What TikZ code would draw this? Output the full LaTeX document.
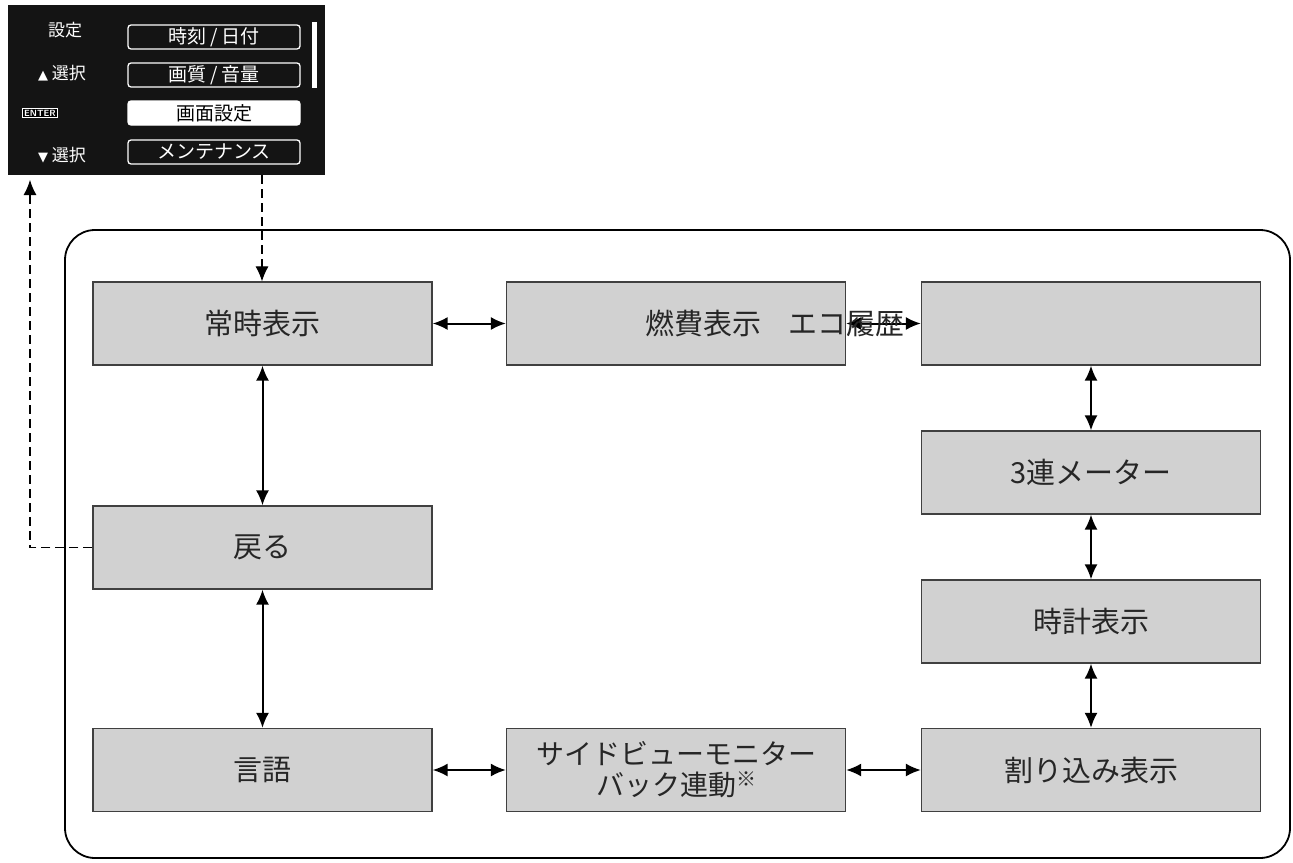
\documentclass[tikz,border=0pt]{standalone}
\usepackage{fontspec}
\setmainfont{Noto Sans CJK JP}
\newfontfamily\sym{DejaVu Sans}
\usetikzlibrary{arrows.meta}
\begin{document}
\begin{tikzpicture}[x=1pt,y=-1pt,
 box/.style={draw=black!75,line width=1.2pt,fill=black!18,minimum width=339pt,minimum height=83pt,inner sep=0pt,font=\fontsize{29}{34}\selectfont,text=black!85},
 dbl/.style={{Latex[length=15pt,width=13pt]}-{Latex[length=15pt,width=13pt]},line width=2pt},
 dsh/.style={dashed,dash pattern=on 9pt off 5pt,line width=1.1pt,-{Latex[length=15pt,width=13pt]}},
 mi/.style={draw=white,line width=1.3pt,rounded corners=3pt,minimum width=172pt,minimum height=24pt,inner sep=0pt,text=white,font=\fontsize{19}{21}\selectfont},
 lab/.style={text=white,font=\fontsize{17}{19}\selectfont}]
\useasboundingbox (0,0) rectangle (1293,862);
\draw[line width=1.8pt,rounded corners=30pt] (65,230) rectangle (1290,858);
\node[box] (a) at (262.5,323.5) {常時表示};
\node[box] (b) at (676,323.5) {};
\node[box] (c) at (1091,323.5) {};
\node[box] (d) at (1091,472.5) {3連メーター};
\node[box] (e) at (1091,621.5) {時計表示};
\node[box] (f) at (1091,770) {割り込み表示};
\node[box] (g) at (262.5,547.5) {戻る};
\node[box] (h) at (262.5,770) {言語};
\node[box,align=center,font=\fontsize{28}{31}\selectfont] (i) at (676,770) {サイドビューモニター\\バック連動\raisebox{0.6ex}{\fontsize{20}{22}\selectfont ※}};
\draw[dbl] (a) -- (b);
\draw[dbl] (b) -- (c);
\node[font=\fontsize{29}{34}\selectfont,text=black!85] (t) at (775,323) {燃費表示\hspace{0.9em}エコ履歴};
\draw[dbl] (c) -- (d);
\draw[dbl] (d) -- (e);
\draw[dbl] (e) -- (f);
\draw[dbl] (a) -- (g);
\draw[dbl] (g) -- (h);
\draw[dbl] (h) -- (i);
\draw[dbl] (i) -- (f);
% panel
\fill[black!92] (8,5) rectangle (325,175);
\node[lab] (p1) at (65,30) {設定};
\node[lab] (p2) at (62,73) {{\sym\fontsize{13}{15}\selectfont ▲} 選択};
\node[draw=white,fill=black,text=white,inner sep=1.5pt,font=\fontsize{9}{10}\sffamily\bfseries\selectfont] (p3) at (40,113) {ENTER};
\node[lab] (p4) at (62,155) {{\sym\fontsize{13}{15}\selectfont ▼} 選択};
\node[mi] (m1) at (214,37) {時刻 / 日付};
\node[mi] (m2) at (214,75) {画質 / 音量};
\node[mi,fill=white,text=black] (m3) at (214,113) {画面設定};
\node[mi] (m4) at (214,152) {メンテナンス};
\fill[white] (312,22) rectangle (317,88);
\coordinate (pb) at (262,175);
\coordinate (pl) at (30,180);
\draw[dsh] (pb) -- (a.north -| pb);
\draw[dsh] (g.west) -| (pl);
\end{tikzpicture}
\end{document}
